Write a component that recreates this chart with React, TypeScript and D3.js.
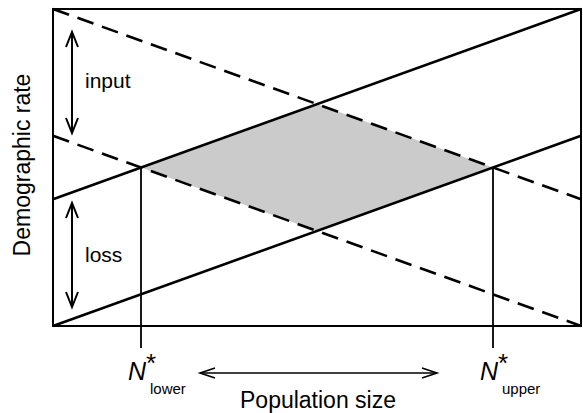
import React from "react";
import * as d3 from "d3";

// Line endpoints: value at x=0 and x=1 (relative units)
const xEnds = [0, 1];
const inputHigh = [1.0, 0.4];
const inputLow = [0.6, 0.0];
const lossLow = [0.0, 0.6];
const lossHigh = [0.4, 1.0];
const eqLabels = ["lower", "upper"];
const yTitle = "Demographic rate";
const xTitle = "Population size";

const W = 583;
const H = 413;
const FONT = "'Liberation Sans', Arial, Helvetica, sans-serif";

function intersect(a: number[], b: number[]) {
  const sa = a[1] - a[0];
  const sb = b[1] - b[0];
  const x = (b[0] - a[0]) / (sa - sb);
  return [x, a[0] + sa * x];
}

function Arrow({ x1, y1, x2, y2, head = 15, half = 6, sw = 2 }: any) {
  const ang = Math.atan2(y2 - y1, x2 - x1);
  const hp = (px: number, py: number, a: number) => {
    const bx = px - head * Math.cos(a);
    const by = py - head * Math.sin(a);
    const nx = -Math.sin(a) * half;
    const ny = Math.cos(a) * half;
    return `M${bx + nx},${by + ny}L${px},${py}L${bx - nx},${by - ny}`;
  };
  return (
    <g fill="none" stroke="#000" strokeWidth={sw} strokeLinejoin="miter">
      <line x1={x1} y1={y1} x2={x2} y2={y2} />
      <path d={hp(x2, y2, ang)} />
      <path d={hp(x1, y1, ang + Math.PI)} />
    </g>
  );
}

export default function App() {
  const x = d3.scaleLinear().domain([0, 1]).range([53, 581]);
  const y = d3.scaleLinear().domain([0, 1]).range([326, 9]);
  const line = d3
    .line<number>()
    .x((_, i) => x(xEnds[i]))
    .y((d) => y(d));

  const pTop = intersect(lossHigh, inputHigh);
  const pLeft = intersect(lossHigh, inputLow);
  const pBottom = intersect(lossLow, inputLow);
  const pRight = intersect(lossLow, inputHigh);
  const diamond = [pLeft, pTop, pRight, pBottom]
    .map((p) => `${x(p[0])},${y(p[1])}`)
    .join(" ");
  const eqs = [pLeft, pRight];

  return (
    <svg
      width={W}
      height={H}
      style={{ position: "absolute", left: 0, top: 0, background: "#fff" }}
    >
      <rect width={W} height={H} fill="#fff" />
      <polygon points={diamond} fill="#cbcbcb" />
      {eqs.map((p, i) => (
        <line
          key={i}
          x1={x(p[0])}
          x2={x(p[0])}
          y1={y(p[1])}
          y2={348}
          stroke="#000"
          strokeWidth={1.8}
        />
      ))}
      <g fill="none" stroke="#000" strokeWidth={2.6}>
        <path d={line(inputHigh) || ""} strokeDasharray="17,9" />
        <path d={line(inputLow) || ""} strokeDasharray="17,9" />
        <path d={line(lossLow) || ""} />
        <path d={line(lossHigh) || ""} />
      </g>
      <rect
        x={x(0)}
        y={y(1)}
        width={x(1) - x(0)}
        height={y(0) - y(1)}
        fill="none"
        stroke="#000"
        strokeWidth={2}
      />
      <Arrow x1={72} y1={32} x2={72} y2={133} />
      <Arrow x1={72} y1={203} x2={72} y2={307} />
      <Arrow x1={200} y1={373} x2={437} y2={373} head={15} half={5} sw={1.6} />
      <g fontFamily={FONT} fill="#000">
        <text x={85} y={88} fontSize={21}>input</text>
        <text x={85} y={262} fontSize={21}>loss</text>
        <text
          transform={`translate(30,165) rotate(-90)`}
          textAnchor="middle"
          fontSize={23}
        >
          {yTitle}
        </text>
        <text x={318} y={408} textAnchor="middle" fontSize={23}>
          {xTitle}
        </text>
        {eqs.map((p, i) => {
          const cx = x(p[0]);
          return (
            <text key={i} x={cx - 13} y={380} fontSize={25}>
              <tspan fontStyle="italic">N</tspan>
              <tspan x={cx + 5} y={372} fontSize={26}>*</tspan>
              <tspan x={cx + 9} y={394} fontSize={15}>
                {eqLabels[i]}
              </tspan>
            </text>
          );
        })}
      </g>
    </svg>
  );
}
